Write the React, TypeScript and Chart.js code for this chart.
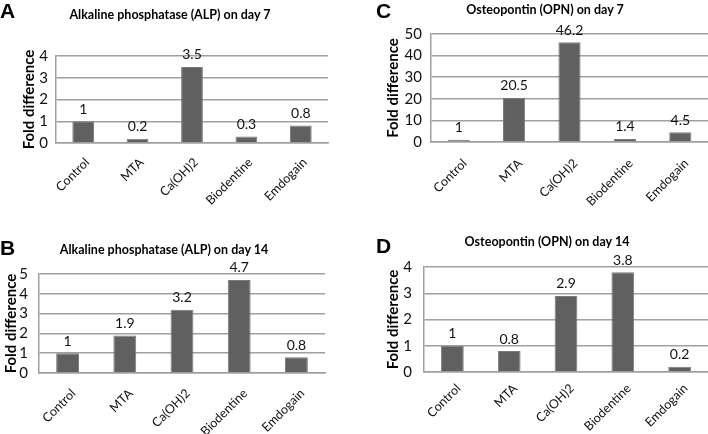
import React, { useEffect, useRef } from "react";
import { Chart, registerables } from "chart.js";
Chart.register(...registerables);

const categories = ["Control", "MTA", "Ca(OH)2", "Biodentine", "Emdogain"];
const alpDay7 = [1, 0.2, 3.5, 0.3, 0.8];
const alpDay14 = [1, 1.9, 3.2, 4.7, 0.8];
const opnDay7 = [1, 20.5, 46.2, 1.4, 4.5];
const opnDay14 = [1, 0.8, 2.9, 3.8, 0.2];

const panelLetters = ["A", "B", "C", "D"];
const panelTitles = [
  "Alkaline phosphatase (ALP) on day 7",
  "Alkaline phosphatase (ALP) on day 14",
  "Osteopontin (OPN) on day 7",
  "Osteopontin (OPN) on day 14",
];
const yMaxes = [4, 5, 50, 4];
const ySteps = [1, 1, 10, 1];
const yAxisTitle = "Fold difference";

const FONT = "Lato, 'Open Sans', sans-serif";
const GRID = "#a0a0a0";
const BAR = "#606060";

type Layout = {
  left: number; top: number; w: number; h: number;
  padTop: number; padRight: number; yWidth: number; xHeight: number;
  yTitlePad: number; yTickPad: number; xPad: number; xOff: number;
  letterX: number; letterY: number; titleX: number; titleY: number;
};

const layouts: Layout[] = [
  { left: 0, top: 0, w: 354, h: 217, padTop: 56, padRight: 26, yWidth: 56, xHeight: 74, yTitlePad: 20, yTickPad: 8, xPad: 12, xOff: 4, letterX: 0, letterY: 0, titleX: 170, titleY: 15 },
  { left: 0, top: 217, w: 354, h: 217, padTop: 57, padRight: 29, yWidth: 39, xHeight: 61, yTitlePad: 2, yTickPad: 11, xPad: 13, xOff: 6, letterX: 0, letterY: 20, titleX: 164, titleY: 33 },
  { left: 354, top: 0, w: 354, h: 217, padTop: 34, padRight: 0, yWidth: 77, xHeight: 75, yTitlePad: 30, yTickPad: 9, xPad: 14, xOff: 6, letterX: 22, letterY: 0, titleX: 191, titleY: 10 },
  { left: 354, top: 217, w: 354, h: 217, padTop: 50, padRight: 0, yWidth: 70, xHeight: 62, yTitlePad: 30, yTickPad: 12, xPad: 9, xOff: 6, letterX: 22, letterY: 18, titleX: 193, titleY: 25 },
];

const seriesList = [alpDay7, alpDay14, opnDay7, opnDay14];

const valueLabels = {
  id: "valueLabels",
  afterDatasetsDraw(chart: any) {
    const ctx = chart.ctx;
    const meta = chart.getDatasetMeta(0);
    const data = chart.data.datasets[0].data;
    ctx.save();
    ctx.font = `14px ${FONT}`;
    ctx.fillStyle = "#111";
    ctx.textAlign = "center";
    ctx.textBaseline = "bottom";
    meta.data.forEach((bar: any, i: number) => {
      ctx.fillText(String(data[i]), bar.x, bar.y - 5);
    });
    ctx.restore();
  },
};

function Panel({ idx }: { idx: number }) {
  const ref = useRef<HTMLCanvasElement>(null);
  const L = layouts[idx];
  useEffect(() => {
    if (!ref.current) return;
    const chart = new Chart(ref.current, {
      type: "bar",
      data: {
        labels: categories,
        datasets: [
          {
            data: seriesList[idx],
            backgroundColor: BAR,
            borderColor: "#7a7a7a",
            borderWidth: 1,
            barPercentage: 0.4,
            categoryPercentage: 1,
          },
        ],
      },
      options: {
        responsive: false,
        animation: false,
        layout: { padding: { top: L.padTop, right: L.padRight, left: 0, bottom: 0 } },
        plugins: { legend: { display: false }, title: { display: false }, tooltip: { enabled: false } },
        scales: {
          x: {
            grid: { display: false, drawTicks: false },
            border: { display: true, color: GRID, width: 1.5 },
            ticks: {
              autoSkip: false,
              maxRotation: 45,
              minRotation: 45,
              padding: L.xPad,
              labelOffset: L.xOff,
              color: "#111",
              font: { family: FONT, size: 12.5 },
            },
            afterFit: (s: any) => { s.height = L.xHeight; },
          },
          y: {
            min: 0,
            max: yMaxes[idx],
            ticks: {
              stepSize: ySteps[idx],
              autoSkip: false,
              padding: L.yTickPad,
              color: "#111",
              font: { family: FONT, size: 15 },
            },
            grid: { color: GRID, lineWidth: 1.5, drawTicks: false },
            border: { display: true, color: GRID, width: 1.5 },
            title: {
              display: true,
              text: yAxisTitle,
              color: "#000",
              font: { family: FONT, size: 15, weight: "bold" },
              padding: { top: L.yTitlePad, bottom: 0 },
            },
            afterFit: (s: any) => { s.width = L.yWidth; },
          },
        },
      },
      plugins: [valueLabels],
    });
    return () => chart.destroy();
  }, [idx]);
  return (
    <div style={{ position: "absolute", left: L.left, top: L.top, width: L.w, height: L.h }}>
      <canvas ref={ref} width={L.w} height={L.h} style={{ position: "absolute", left: 0, top: 0 }} />
      <div style={{ position: "absolute", left: L.letterX, top: L.letterY, font: "bold 21px 'Liberation Sans', Arial, sans-serif", lineHeight: "21px", color: "#000" }}>
        {panelLetters[idx]}
      </div>
      <div style={{ position: "absolute", left: L.titleX, top: L.titleY, transform: "translate(-50%, -50%)", whiteSpace: "nowrap", font: `bold 12.5px ${FONT}`, lineHeight: "16px", color: "#000" }}>
        {panelTitles[idx]}
      </div>
    </div>
  );
}

export default function App() {
  return (
    <div style={{ position: "fixed", left: 0, top: 0, width: 708, height: 434, background: "#fff", overflow: "hidden" }}>
      {[0, 1, 2, 3].map((i) => (
        <Panel key={i} idx={i} />
      ))}
    </div>
  );
}
